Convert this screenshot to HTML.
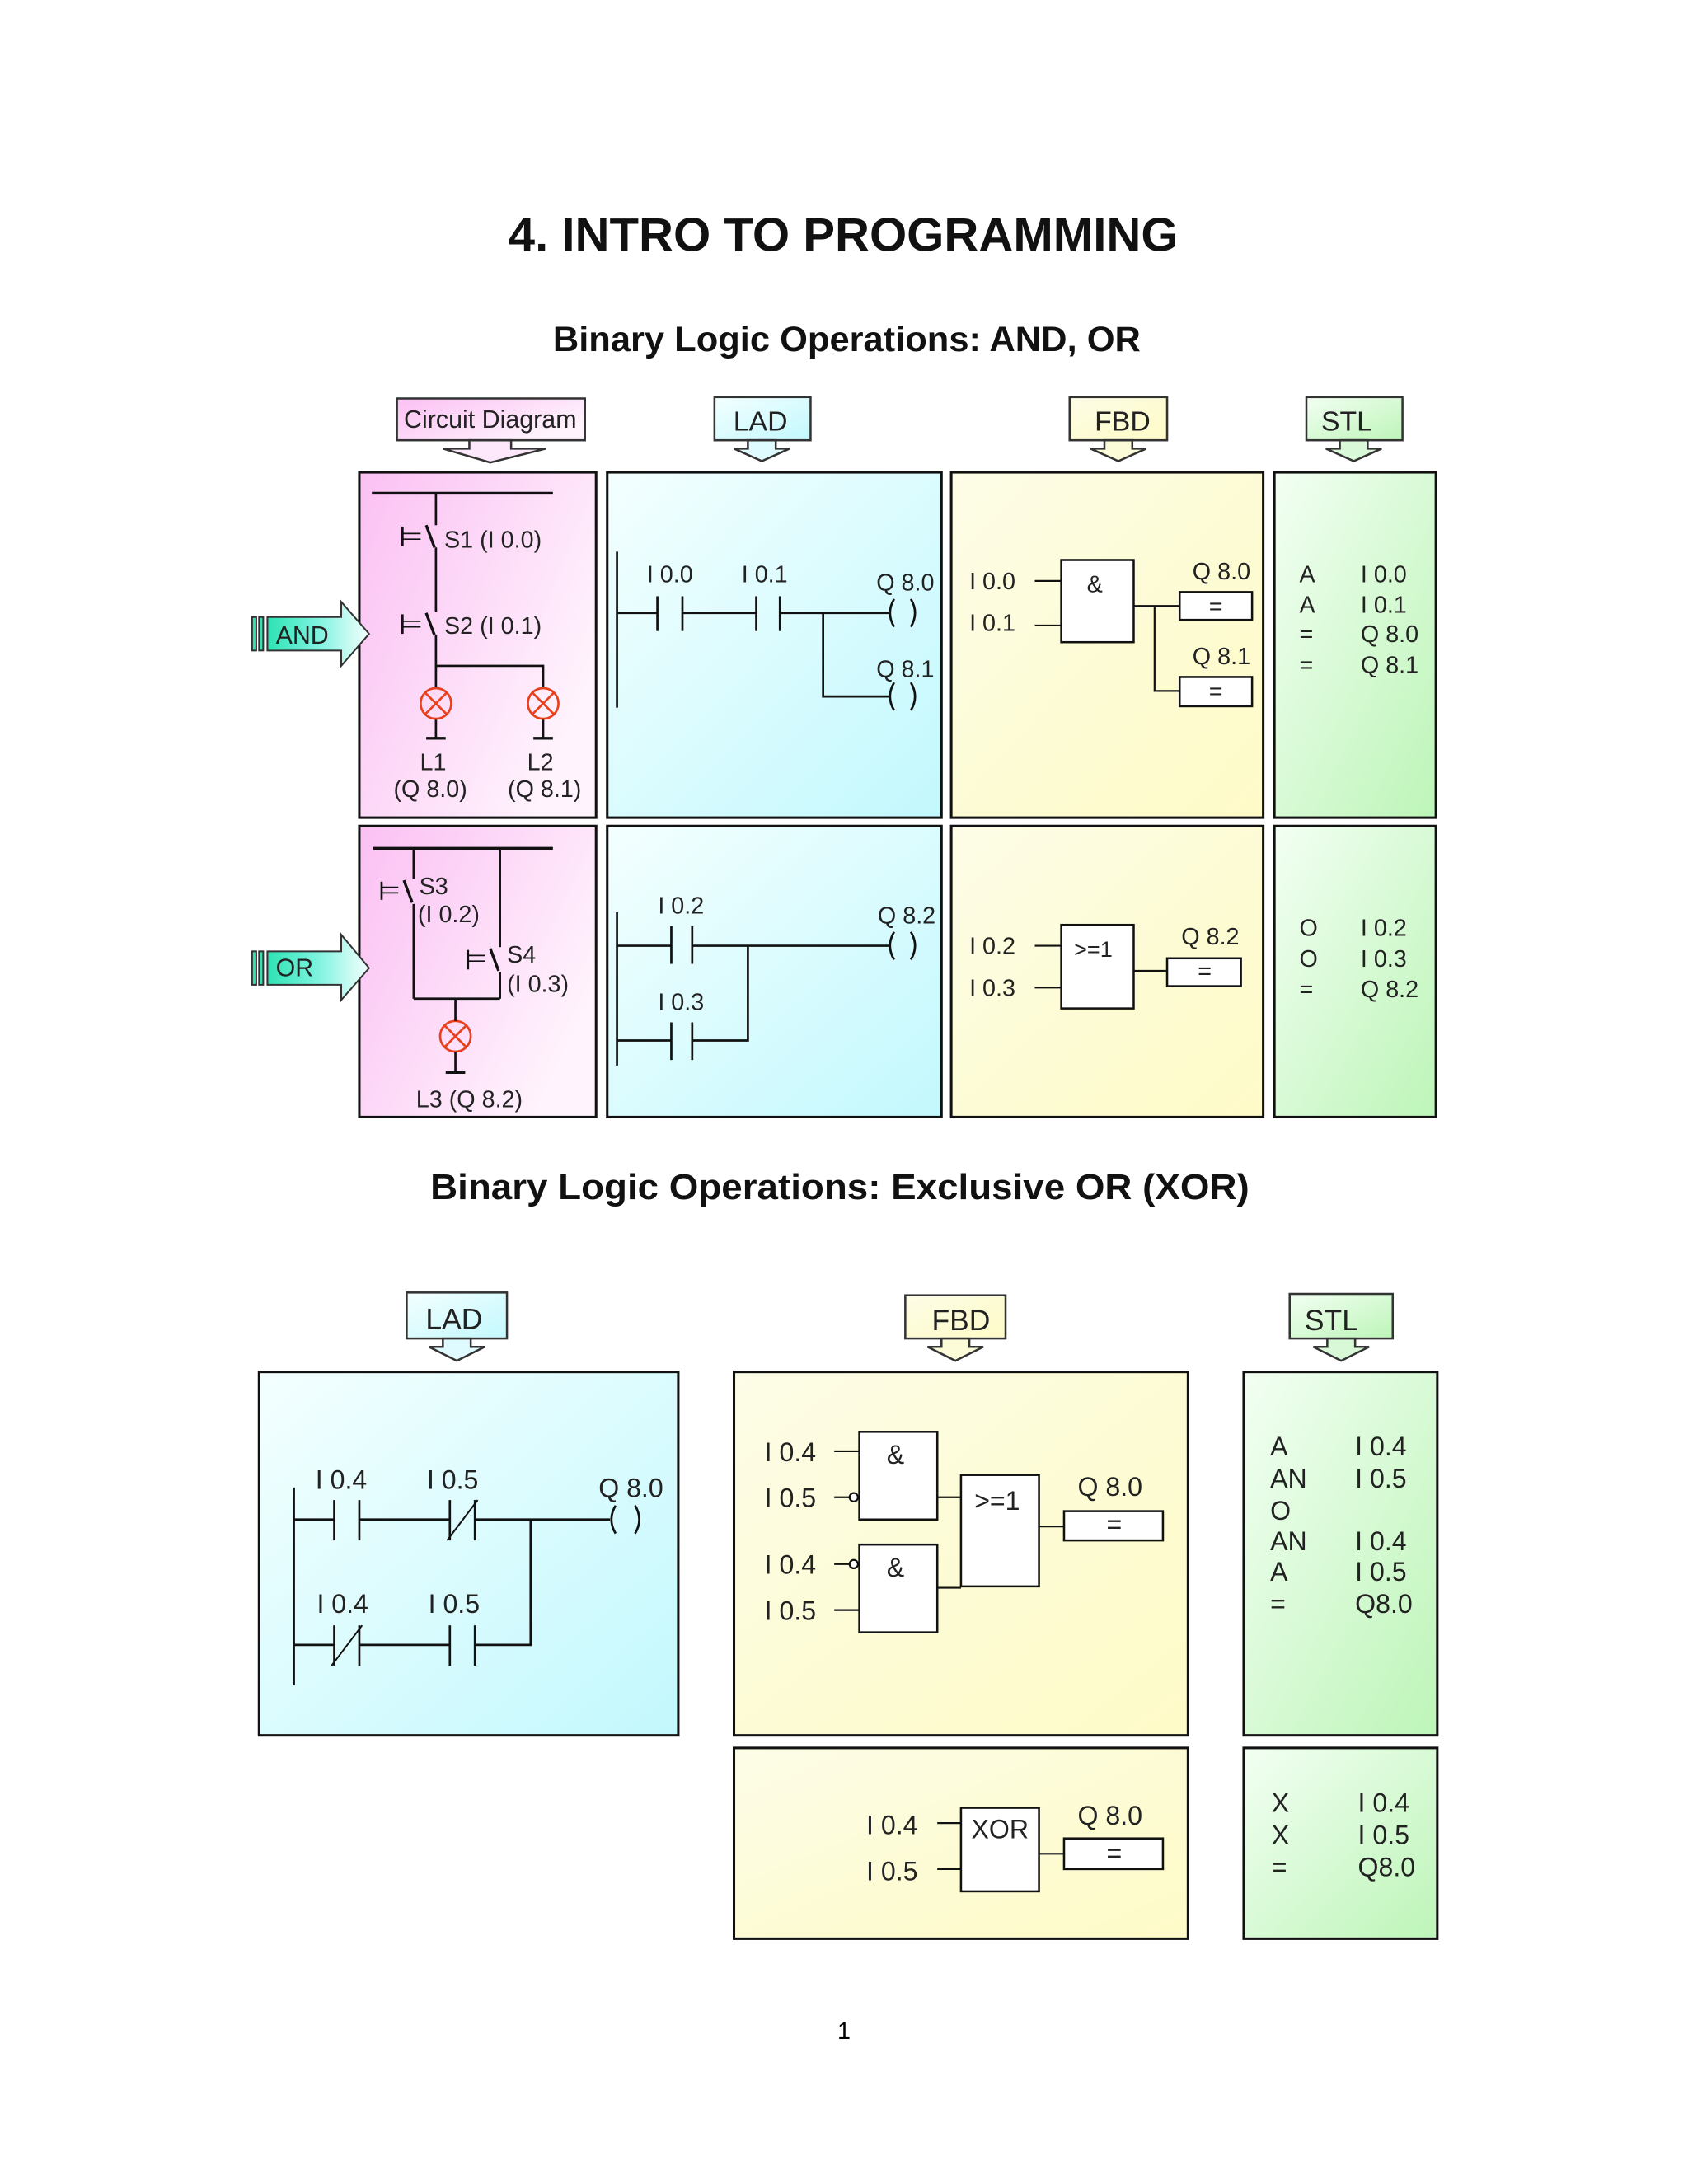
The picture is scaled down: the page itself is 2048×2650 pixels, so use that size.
<!DOCTYPE html>
<html><head><meta charset="utf-8"><style>
html,body{margin:0;padding:0;background:#fff}
svg{display:block}
.t{font-family:"Liberation Sans Narrow","Liberation Sans",sans-serif;fill:#222}
.f{font-family:"Liberation Sans",sans-serif;fill:#222}
</style></head><body>
<svg width="2048" height="2650" viewBox="0 0 1212 1568" xmlns="http://www.w3.org/2000/svg">
<defs>
<linearGradient id="gp" x1="0" y1="0" x2="1" y2="0.6"><stop offset="0" stop-color="#fbc0f3"/><stop offset="1" stop-color="#fff4fd"/></linearGradient>
<linearGradient id="gc" x1="0" y1="0" x2="1" y2="1"><stop offset="0" stop-color="#f4ffff"/><stop offset="1" stop-color="#c2f8fd"/></linearGradient>
<linearGradient id="gy" x1="0" y1="0" x2="1" y2="1"><stop offset="0" stop-color="#fdfde8"/><stop offset="0.6" stop-color="#fdfbd2"/><stop offset="1" stop-color="#fffbc8"/></linearGradient>
<linearGradient id="gg" x1="0" y1="0" x2="1" y2="1"><stop offset="0" stop-color="#f3fff3"/><stop offset="1" stop-color="#bdf5b8"/></linearGradient>
<linearGradient id="ga" x1="0" y1="0" x2="1" y2="0"><stop offset="0" stop-color="#2ee3b4"/><stop offset="0.5" stop-color="#7ff3e0"/><stop offset="1" stop-color="#f4fffd"/></linearGradient>
</defs>
<g font-family="Liberation Sans,sans-serif" font-weight="bold" fill="#111">
<text x="365" y="180" font-size="34" textLength="481" lengthAdjust="spacingAndGlyphs">4. INTRO TO PROGRAMMING</text>
<text x="397" y="252" font-size="25" textLength="422" lengthAdjust="spacingAndGlyphs">Binary Logic Operations: AND, OR</text>
<text x="309" y="861" font-size="26" textLength="588" lengthAdjust="spacingAndGlyphs">Binary Logic Operations: Exclusive OR (XOR)</text>
</g>
<text x="606" y="1464" font-size="17" text-anchor="middle" font-family="Liberation Sans,sans-serif">1</text>

<!-- headers -->
<g stroke="#333" stroke-width="1.5">
<rect x="285" y="286" width="135" height="30" fill="url(#gp)"/>
<polygon points="337,316 337,322 318,322 352,332 392,322 367,322 367,316" fill="#fde8fb"/>
<rect x="513" y="285" width="69" height="31" fill="url(#gc)"/>
<polygon points="537,316 537,322 527,322 547,331 567,322 557,322 557,316" fill="#e0fbff"/>
<rect x="768" y="285" width="70" height="31" fill="url(#gy)"/>
<polygon points="793,316 793,322 783,322 803,331 823,322 813,322 813,316" fill="#fdfcd8"/>
<rect x="938" y="285" width="69" height="31" fill="url(#gg)"/>
<polygon points="962,316 962,322 952,322 972,331 992,322 982,322 982,316" fill="#d8f8d8"/>
<rect x="292" y="928" width="72" height="33" fill="url(#gc)"/>
<polygon points="318,961 318,967 308,967 328,977 348,967 338,967 338,961" fill="#e0fbff"/>
<rect x="650" y="930" width="72" height="31" fill="url(#gy)"/>
<polygon points="676,961 676,967 666,967 686,977 706,967 696,967 696,961" fill="#fdfcd8"/>
<rect x="926" y="929" width="74" height="32" fill="url(#gg)"/>
<polygon points="953,961 953,967 943,967 963,977 983,967 973,967 973,961" fill="#d8f8d8"/>
</g>
<g class="t" text-anchor="middle">
<text x="352" y="307" font-size="18">Circuit Diagram</text>
<text x="546" y="309" font-size="20" class="f">LAD</text>
<text x="806" y="309" font-size="20" class="f">FBD</text>
<text x="967" y="309" font-size="20" class="f">STL</text>
<text x="326" y="954" font-size="21" class="f">LAD</text>
<text x="690" y="955" font-size="21" class="f">FBD</text>
<text x="956" y="955" font-size="21" class="f">STL</text>
</g>

<!-- panels -->
<g stroke="#111" stroke-width="1.8">
<rect x="258" y="339" width="170" height="248" fill="url(#gp)"/>
<rect x="436" y="339" width="240" height="248" fill="url(#gc)"/>
<rect x="683" y="339" width="224" height="248" fill="url(#gy)"/>
<rect x="915" y="339" width="116" height="248" fill="url(#gg)"/>
<rect x="258" y="593" width="170" height="209" fill="url(#gp)"/>
<rect x="436" y="593" width="240" height="209" fill="url(#gc)"/>
<rect x="683" y="593" width="224" height="209" fill="url(#gy)"/>
<rect x="915" y="593" width="116" height="209" fill="url(#gg)"/>
<rect x="186" y="985" width="301" height="261" fill="url(#gc)"/>
<rect x="527" y="985" width="326" height="261" fill="url(#gy)"/>
<rect x="893" y="985" width="139" height="261" fill="url(#gg)"/>
<rect x="527" y="1255" width="326" height="137" fill="url(#gy)"/>
<rect x="893" y="1255" width="139" height="137" fill="url(#gg)"/>
</g>

<!-- AND / OR arrows -->
<g stroke="#333" stroke-width="1.2">
<rect x="181" y="443" width="3" height="24" fill="#2ee3b4"/><rect x="186" y="443" width="3" height="24" fill="#2ee3b4"/>
<polygon points="192,443 245,443 245,432 265,455 245,478 245,467 192,467" fill="url(#ga)"/>
<rect x="181" y="683" width="3" height="24" fill="#2ee3b4"/><rect x="186" y="683" width="3" height="24" fill="#2ee3b4"/>
<polygon points="192,683 245,683 245,671 265,695 245,718 245,707 192,707" fill="url(#ga)"/>
</g>
<text x="198" y="462" font-size="18" class="t">AND</text>
<text x="198" y="701" font-size="18" class="t">OR</text>

<!-- circuit AND -->
<g stroke="#111" stroke-width="1.6" fill="none">
<line x1="267" y1="354" x2="397" y2="354" stroke-width="2"/>
<line x1="313" y1="354" x2="313" y2="377"/>
<line x1="289" y1="378" x2="289" y2="392"/><line x1="289" y1="383" x2="302" y2="383" stroke-width="1"/><line x1="289" y1="387" x2="302" y2="387" stroke-width="1"/>
<line x1="306" y1="377" x2="312" y2="393" stroke-width="2"/>
<line x1="313" y1="393" x2="313" y2="439"/>
<line x1="289" y1="441" x2="289" y2="455"/><line x1="289" y1="446" x2="302" y2="446" stroke-width="1"/><line x1="289" y1="450" x2="302" y2="450" stroke-width="1"/>
<line x1="306" y1="440" x2="312" y2="456" stroke-width="2"/>
<line x1="313" y1="456" x2="313" y2="494"/>
<polyline points="313,478 390,478 390,494"/>
<line x1="313" y1="516" x2="313" y2="530"/><line x1="306" y1="530" x2="320" y2="530" stroke-width="2"/>
<line x1="390" y1="516" x2="390" y2="530"/><line x1="383" y1="530" x2="397" y2="530" stroke-width="2"/>
</g>
<g stroke="#e8401c" stroke-width="1.6" fill="none">
<circle cx="313" cy="505" r="11"/><line x1="305" y1="497" x2="321" y2="513"/><line x1="321" y1="497" x2="305" y2="513"/>
<circle cx="390" cy="505" r="11"/><line x1="382" y1="497" x2="398" y2="513"/><line x1="398" y1="497" x2="382" y2="513"/>
<circle cx="327" cy="744" r="11"/><line x1="319" y1="736" x2="335" y2="752"/><line x1="335" y1="736" x2="319" y2="752"/>
</g>
<g class="t" font-size="17">
<text x="319" y="393">S1 (I 0.0)</text>
<text x="319" y="455">S2 (I 0.1)</text>
<text x="311" y="553" text-anchor="middle">L1</text><text x="309" y="572" text-anchor="middle">(Q 8.0)</text>
<text x="388" y="553" text-anchor="middle">L2</text><text x="391" y="572" text-anchor="middle">(Q 8.1)</text>
</g>

<!-- circuit OR -->
<g stroke="#111" stroke-width="1.6" fill="none">
<line x1="268" y1="609" x2="397" y2="609" stroke-width="2"/>
<line x1="297" y1="609" x2="297" y2="631"/>
<line x1="274" y1="633" x2="274" y2="646"/><line x1="274" y1="637" x2="286" y2="637" stroke-width="1"/><line x1="274" y1="641" x2="286" y2="641" stroke-width="1"/>
<line x1="290" y1="632" x2="296" y2="648" stroke-width="2"/>
<line x1="297" y1="649" x2="297" y2="717"/>
<line x1="359" y1="609" x2="359" y2="680"/>
<line x1="336" y1="682" x2="336" y2="696"/><line x1="336" y1="686" x2="348" y2="686" stroke-width="1"/><line x1="336" y1="690" x2="348" y2="690" stroke-width="1"/>
<line x1="352" y1="681" x2="358" y2="697" stroke-width="2"/>
<line x1="359" y1="698" x2="359" y2="717"/>
<line x1="297" y1="717" x2="359" y2="717"/>
<line x1="327" y1="717" x2="327" y2="733"/>
<line x1="327" y1="755" x2="327" y2="770"/><line x1="320" y1="770" x2="334" y2="770" stroke-width="2"/>
</g>
<g class="t" font-size="17">
<text x="301" y="642">S3</text><text x="300" y="662">(I 0.2)</text>
<text x="364" y="691">S4</text><text x="364" y="712">(I 0.3)</text>
<text x="337" y="795" text-anchor="middle">L3 (Q 8.2)</text>
</g>

<!-- LAD AND / OR -->
<g stroke="#111" stroke-width="1.6" fill="none">
<line x1="443" y1="396" x2="443" y2="508"/>
<polyline points="443,440 472,440"/><line x1="472" y1="428" x2="472" y2="453"/><line x1="490" y1="428" x2="490" y2="453"/>
<polyline points="490,440 543,440"/><line x1="543" y1="428" x2="543" y2="453"/><line x1="560" y1="428" x2="560" y2="453"/>
<polyline points="560,440 639,440"/>
<polyline points="591,440 591,500 639,500"/>
<path d="M642,430 Q636,440 642,450 M654,430 Q660,440 654,450"/>
<path d="M642,490 Q636,500 642,510 M654,490 Q660,500 654,510"/>
<line x1="443" y1="655" x2="443" y2="765"/>
<line x1="443" y1="679" x2="482" y2="679"/><line x1="482" y1="665" x2="482" y2="692"/><line x1="497" y1="665" x2="497" y2="692"/>
<line x1="497" y1="679" x2="639" y2="679"/>
<path d="M642,669 Q636,679 642,689 M654,669 Q660,679 654,689"/>
<line x1="443" y1="747" x2="482" y2="747"/><line x1="482" y1="734" x2="482" y2="761"/><line x1="497" y1="734" x2="497" y2="761"/>
<polyline points="497,747 537,747 537,679"/>
</g>
<g class="t" font-size="17" text-anchor="middle">
<text x="481" y="418">I 0.0</text><text x="549" y="418">I 0.1</text>
<text x="650" y="424">Q 8.0</text><text x="650" y="486">Q 8.1</text>
<text x="489" y="656">I 0.2</text><text x="489" y="725">I 0.3</text>
<text x="651" y="663">Q 8.2</text>
</g>

<!-- FBD AND / OR -->
<g stroke="#111" stroke-width="1.5" fill="#fff">
<rect x="762" y="402" width="52" height="59"/>
<rect x="847" y="425" width="52" height="20"/>
<rect x="847" y="486" width="52" height="21"/>
<rect x="762" y="664" width="52" height="60"/>
<rect x="838" y="688" width="53" height="20"/>
</g>
<g stroke="#111" stroke-width="1.3" fill="none">
<line x1="743" y1="417" x2="762" y2="417"/><line x1="743" y1="449" x2="762" y2="449"/>
<line x1="814" y1="435" x2="847" y2="435"/><polyline points="829,435 829,496 847,496"/>
<line x1="743" y1="679" x2="762" y2="679"/><line x1="743" y1="709" x2="762" y2="709"/>
<line x1="814" y1="697" x2="838" y2="697"/>
</g>
<g class="f" font-size="17">
<text x="696" y="423">I 0.0</text><text x="696" y="453">I 0.1</text>
<text x="786" y="425" text-anchor="middle">&amp;</text>
<text x="877" y="416" text-anchor="middle">Q 8.0</text><text x="873" y="441" text-anchor="middle">=</text>
<text x="877" y="477" text-anchor="middle">Q 8.1</text><text x="873" y="502" text-anchor="middle">=</text>
<text x="696" y="685">I 0.2</text><text x="696" y="715">I 0.3</text>
<text x="785" y="687" text-anchor="middle" font-size="16">&gt;=1</text>
<text x="869" y="678" text-anchor="middle">Q 8.2</text><text x="865" y="703" text-anchor="middle">=</text>
</g>
<!-- STL -->
<g class="f" font-size="17">
<text x="933" y="418">A</text><text x="933" y="440">A</text><text x="933" y="461">=</text><text x="933" y="483">=</text>
<text x="977" y="418">I 0.0</text><text x="977" y="440">I 0.1</text><text x="977" y="461">Q 8.0</text><text x="977" y="483">Q 8.1</text>
<text x="933" y="672">O</text><text x="933" y="694">O</text><text x="933" y="716">=</text>
<text x="977" y="672">I 0.2</text><text x="977" y="694">I 0.3</text><text x="977" y="716">Q 8.2</text>
</g>

<!-- XOR LAD -->
<g stroke="#111" stroke-width="1.6" fill="none">
<line x1="211" y1="1068" x2="211" y2="1210"/>
<line x1="211" y1="1091" x2="240" y2="1091"/><line x1="240" y1="1077" x2="240" y2="1106"/><line x1="258" y1="1077" x2="258" y2="1106"/>
<line x1="258" y1="1091" x2="323" y2="1091"/><line x1="323" y1="1077" x2="323" y2="1106"/><line x1="341" y1="1077" x2="341" y2="1106"/><line x1="321" y1="1106" x2="343" y2="1077" stroke-width="1.2"/>
<line x1="341" y1="1091" x2="438" y2="1091"/>
<path d="M442,1081 Q436,1091 442,1101 M456,1081 Q462,1091 456,1101"/>
<polyline points="381,1091 381,1181 341,1181"/>
<line x1="211" y1="1181" x2="240" y2="1181"/><line x1="240" y1="1167" x2="240" y2="1196"/><line x1="258" y1="1167" x2="258" y2="1196"/><line x1="238" y1="1196" x2="260" y2="1167" stroke-width="1.2"/>
<line x1="258" y1="1181" x2="323" y2="1181"/><line x1="323" y1="1167" x2="323" y2="1196"/><line x1="341" y1="1167" x2="341" y2="1196"/>
</g>
<g class="t" font-size="19" text-anchor="middle">
<text x="245" y="1069">I 0.4</text><text x="325" y="1069">I 0.5</text><text x="453" y="1075">Q 8.0</text>
<text x="246" y="1158">I 0.4</text><text x="326" y="1158">I 0.5</text>
</g>

<!-- XOR FBD -->
<g stroke="#111" stroke-width="1.5" fill="#fff">
<rect x="617" y="1028" width="56" height="63"/>
<rect x="617" y="1109" width="56" height="63"/>
<rect x="690" y="1059" width="56" height="80"/>
<rect x="764" y="1085" width="71" height="21"/>
<rect x="690" y="1298" width="56" height="60"/>
<rect x="764" y="1320" width="71" height="22"/>
</g>
<g stroke="#111" stroke-width="1.3" fill="none">
<line x1="599" y1="1042" x2="617" y2="1042"/>
<line x1="599" y1="1075" x2="610" y2="1075"/><circle cx="613" cy="1075" r="3" fill="#fff"/>
<line x1="599" y1="1123" x2="610" y2="1123"/><circle cx="613" cy="1123" r="3" fill="#fff"/>
<line x1="599" y1="1156" x2="617" y2="1156"/>
<line x1="673" y1="1075" x2="690" y2="1075"/><line x1="673" y1="1140" x2="690" y2="1140"/>
<line x1="746" y1="1096" x2="764" y2="1096"/>
<line x1="673" y1="1309" x2="690" y2="1309"/><line x1="673" y1="1342" x2="690" y2="1342"/>
<line x1="746" y1="1331" x2="764" y2="1331"/>
</g>
<g class="t" font-size="19">
<text x="549" y="1049">I 0.4</text><text x="549" y="1082">I 0.5</text>
<text x="549" y="1130">I 0.4</text><text x="549" y="1163">I 0.5</text>
<text x="643" y="1051" text-anchor="middle">&amp;</text><text x="643" y="1132" text-anchor="middle">&amp;</text>
<text x="716" y="1084" text-anchor="middle">&gt;=1</text>
<text x="797" y="1074" text-anchor="middle">Q 8.0</text><text x="800" y="1101" text-anchor="middle">=</text>
<text x="622" y="1317">I 0.4</text><text x="622" y="1350">I 0.5</text>
<text x="718" y="1320" text-anchor="middle">XOR</text>
<text x="797" y="1310" text-anchor="middle">Q 8.0</text><text x="800" y="1337" text-anchor="middle">=</text>
</g>
<!-- XOR STL -->
<g class="t" font-size="19">
<text x="912" y="1045">A</text><text x="912" y="1068">AN</text><text x="912" y="1091">O</text><text x="912" y="1113">AN</text><text x="912" y="1135">A</text><text x="912" y="1158">=</text>
<text x="973" y="1045">I 0.4</text><text x="973" y="1068">I 0.5</text><text x="973" y="1113">I 0.4</text><text x="973" y="1135">I 0.5</text><text x="973" y="1158">Q8.0</text>
<text x="913" y="1301">X</text><text x="913" y="1324">X</text><text x="913" y="1347">=</text>
<text x="975" y="1301">I 0.4</text><text x="975" y="1324">I 0.5</text><text x="975" y="1347">Q8.0</text>
</g>
</svg>
</body></html>
